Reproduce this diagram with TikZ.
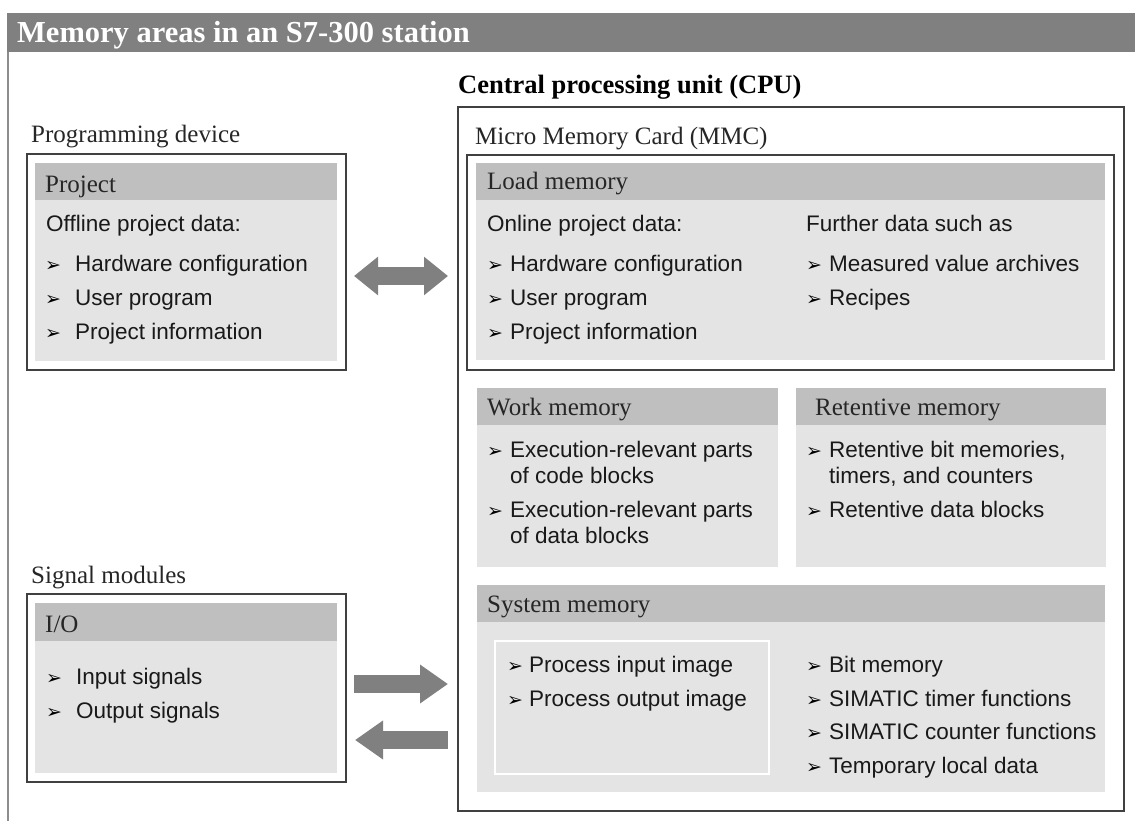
\documentclass[tikz,border=0pt]{standalone}
\usepackage{fontspec}
\setmainfont{Liberation Serif}
\setsansfont{Liberation Sans}
\newfontfamily\bulfont{DejaVu Sans}
\usetikzlibrary{arrows.meta}
\usetikzlibrary{math}

\definecolor{bargray}{HTML}{808080}
\definecolor{headgray}{HTML}{BFBFBF}
\definecolor{bodygray}{HTML}{E4E4E4}
\definecolor{linegray}{HTML}{404040}

\newcommand{\labelfont}{\rmfamily\fontsize{25}{28}\selectfont}
\newcommand{\itemfont}{\sffamily\fontsize{22.5}{26}\selectfont}

% bullet list entry: name, bullet x, text x, baseline y, text
\newcommand{\bulitem}[5]{%
  \node[bullet] (#1b) at (#2,#4) {➢};
  \node[itemtext] (#1) at (#3,#4) {#5};
}

\tikzset{
  frame/.style={draw=linegray, line width=1.3pt, fill=white, anchor=north west, inner sep=0pt, outer sep=0pt},
  body/.style={fill=bodygray, anchor=north west, inner sep=0pt, outer sep=0pt},
  head/.style={fill=headgray, anchor=north west, inner sep=0pt, outer sep=0pt, minimum height=\HeadHeight pt},
  headtext/.style={anchor=base west, inner sep=0pt, font=\labelfont, text=black!85},
  areatext/.style={anchor=base west, inner sep=0pt, font=\labelfont, text=black!85},
  itemtext/.style={anchor=base west, inner sep=0pt, font=\itemfont, text=black!90},
  bullet/.style={anchor=base west, inner sep=0pt, font=\bulfont\fontsize{19}{19}\selectfont},
  fatarrow/.style={draw=bargray, line width=18pt}
}

\begin{document}
\begin{tikzpicture}[x=1pt, y=-1pt]

% Size settings
\tikzmath{
    \HeadHeight = 37;
}

\useasboundingbox (0,0) rectangle (1135,821);

% Title bar and outer frame
\fill[bargray] (7,13) rectangle (1135,52);
\draw[bargray!90, line width=2pt] (8,52) -- (8,821);
\node[anchor=base west, inner sep=0pt, text=white, font=\bfseries\fontsize{30.5}{30}\selectfont] (title) at (17,43) {Memory areas in an S7-300 station};

% Programming device
\node[areatext] (pdlbl) at (31,143) {Programming device};
\node[frame, minimum width=319pt, minimum height=216pt] (pd) at (27,154) {};
\node[body, minimum width=302pt, minimum height=198pt] (pdbody) at (35,163) {};
\node[head, minimum width=302pt] (pdhead) at (35,163) {};
\node[headtext] (pdtitle) at ([xshift=10pt,yshift=7pt]pdhead.south west) {Project};
\node[itemtext] (offline) at (46,232) {Offline project data:};
\bulitem{pd1}{45}{75}{271}{Hardware configuration}
\bulitem{pd2}{45}{75}{305}{User program}
\bulitem{pd3}{45}{75}{339}{Project information}

% Signal modules
\node[areatext] (smlbl) at (31,583) {Signal modules};
\node[frame, minimum width=319pt, minimum height=188pt] (sm) at (27,594) {};
\node[body, minimum width=302pt, minimum height=170pt] (smbody) at (35,603) {};
\node[head, minimum width=302pt, minimum height=38pt] (smhead) at (35,603) {};
\node[headtext] (smtitle) at ([xshift=10pt,yshift=9pt]smhead.south west) {I/O};
\bulitem{sm1}{46}{76}{684}{Input signals}
\bulitem{sm2}{46}{76}{718}{Output signals}

% CPU
\node[anchor=base west, inner sep=0pt, font=\bfseries\fontsize{26.5}{28}\selectfont] (cpulbl) at (458,94) {Central processing unit (CPU)};
\node[frame, minimum width=666pt, minimum height=704pt] (cpu) at (458,107) {};

% Micro memory card with load memory
\node[areatext] (mmclbl) at (475,145) {Micro Memory Card (MMC)};
\node[frame, minimum width=647pt, minimum height=215pt] (mmc) at (467,155) {};
\node[body, minimum width=629pt, minimum height=197pt] (loadbody) at (476,163) {};
\node[head, minimum width=629pt] (loadhead) at (476,163) {};
\node[headtext] (loadtitle) at ([xshift=11pt,yshift=10pt]loadhead.south west) {Load memory};
\node[itemtext] (online) at (487,232) {Online project data:};
\node[itemtext] (further) at (806,232) {Further data such as};
\bulitem{ld1}{487}{510}{271}{Hardware configuration}
\bulitem{ld2}{487}{510}{305}{User program}
\bulitem{ld3}{487}{510}{339}{Project information}
\bulitem{ld4}{806}{829}{271}{Measured value archives}
\bulitem{ld5}{806}{829}{305}{Recipes}

% Work memory
\node[body, minimum width=301pt, minimum height=179pt] (workbody) at (477,388) {};
\node[head, minimum width=301pt] (workhead) at (477,388) {};
\node[headtext] (worktitle) at ([xshift=10pt,yshift=10pt]workhead.south west) {Work memory};
\bulitem{wm1}{487}{510}{457}{Execution-relevant parts}
\node[itemtext] (wm1c) at (510,483) {of code blocks};
\bulitem{wm2}{487}{510}{517}{Execution-relevant parts}
\node[itemtext] (wm2c) at (510,543) {of data blocks};

% Retentive memory
\node[body, minimum width=310pt, minimum height=179pt] (retbody) at (796,388) {};
\node[head, minimum width=310pt] (rethead) at (796,388) {};
\node[headtext] (rettitle) at ([xshift=19pt,yshift=10pt]rethead.south west) {Retentive memory};
\bulitem{rm1}{806}{829}{457}{Retentive bit memories,}
\node[itemtext] (rm1c) at (829,483) {timers, and counters};
\bulitem{rm2}{806}{829}{517}{Retentive data blocks}

% System memory
\node[body, minimum width=628pt, minimum height=207pt] (sysbody) at (477,585) {};
\node[head, minimum width=628pt] (syshead) at (477,585) {};
\node[headtext] (systitle) at ([xshift=10pt,yshift=10pt]syshead.south west) {System memory};
\node[body, draw=white, line width=2pt, minimum width=274pt, minimum height=133pt] (image) at (495,641) {};
\bulitem{sy1}{507}{529}{672}{Process input image}
\bulitem{sy2}{507}{529}{706}{Process output image}
\bulitem{sy3}{806}{829}{672}{Bit memory}
\bulitem{sy4}{806}{829}{706}{SIMATIC timer functions}
\bulitem{sy5}{806}{829}{739}{SIMATIC counter functions}
\bulitem{sy6}{806}{829}{773}{Temporary local data}

% Arrows
\coordinate (pdR) at (354,276);
\coordinate (cpuA) at (448,276);
\coordinate (smR) at (354,684);
\coordinate (cpuB) at (448,684);
\coordinate (smL) at (355,740);
\coordinate (cpuC) at (448,740);
\draw[fatarrow, {Triangle[length=24pt 0 0,width=37pt 0 0]}-{Triangle[length=24pt 0 0,width=37pt 0 0]}] (pdR) -- (cpuA);
\draw[fatarrow, -{Triangle[length=28pt 0 0,width=37pt 0 0]}] (smR) -- (cpuB);
\draw[fatarrow, -{Triangle[length=28pt 0 0,width=37pt 0 0]}] (cpuC) -- (smL);

\end{tikzpicture}
\end{document}
